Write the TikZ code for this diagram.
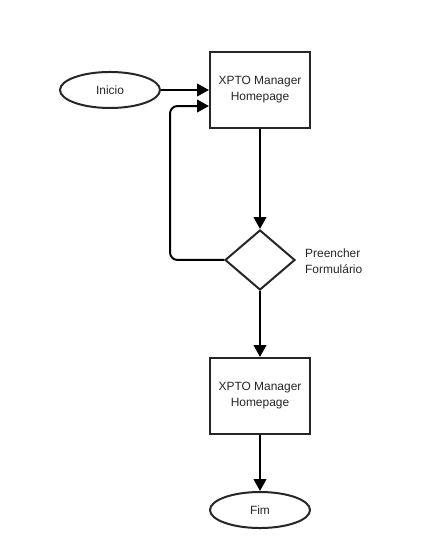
\documentclass[tikz,border=0pt]{standalone}
\usepackage{fontspec}
\setmainfont{Liberation Sans}
\usetikzlibrary{shapes.geometric,arrows.meta}
\tikzset{
  flowtext/.style={font=\fontsize{9}{12}\selectfont, text=black!85},
  terminal/.style={ellipse, draw=black!85, line width=1.5pt, fill=white, minimum width=2.646cm, minimum height=0.953cm, inner sep=0pt, flowtext},
  pagebox/.style={rectangle, draw=black!85, line width=1.5pt, fill=white, minimum width=2.646cm, minimum height=2.011cm, inner sep=0pt, align=center, flowtext},
  choice/.style={diamond, draw=black!85, line width=1.5pt, fill=white, minimum width=1.852cm, minimum height=1.588cm, inner sep=0pt},
  choicelabel/.style={anchor=west, align=left, flowtext},
  link/.style={line width=1.5pt, draw=black, -{Triangle[length=9pt,width=9.5pt]}},
}
\begin{document}
\begin{tikzpicture}
\useasboundingbox (0,0) rectangle (11.324,14.552);
\node[terminal] (inicio) at (2.910,12.171) {Inicio};
\node[pagebox] (home1) at (6.879,12.171) {XPTO Manager\\Homepage};
\node[choice] (form) at (6.879,7.673) {};
\node[choicelabel] (formlabel) at (7.950,7.650) {Preencher\\Formulário};
\node[pagebox] (home2) at (6.879,4.075) {XPTO Manager\\Homepage};
\node[terminal] (fim) at (6.879,1.058) {Fim};
\coordinate (back) at (4.498,11.747);
\draw[link] (inicio) -- (home1);
\draw[link] (home1) -- (form);
\draw[link, rounded corners=0.2cm] (form.west) -| (back) -- (back -| home1.west);
\draw[link] (form) -- (home2);
\draw[link] (home2) -- (fim);
\end{tikzpicture}
\end{document}
